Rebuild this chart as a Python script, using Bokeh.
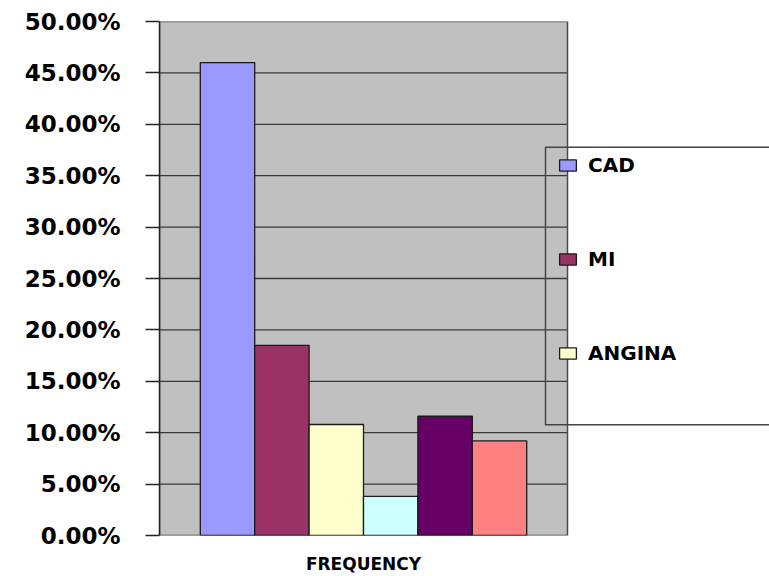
from bokeh.plotting import figure
from bokeh.models import Range1d, FixedTicker, Legend, LegendItem, ColumnDataSource
from bokeh.embed import file_html
from bokeh.resources import INLINE

# Share of patients per diagnosis group (percent)
legend_labels = ["CAD", "MI", "ANGINA"]
frequency = [46.0, 18.5, 10.8, 3.8, 11.6, 9.2]
bar_colors = ["#9999FF", "#993366", "#FFFFCC", "#CCFFFF", "#660066", "#FF8080"]
y_ticks = [0, 5, 10, 15, 20, 25, 30, 35, 40, 45, 50]
y_tick_labels = ["0.00%", "5.00%", "10.00%", "15.00%", "20.00%", "25.00%",
                 "30.00%", "35.00%", "40.00%", "45.00%", "50.00%"]
axis_title = "FREQUENCY"

# ---- layout (pixels) ----
W, H = 769, 576
FRAME_LEFT, FRAME_TOP, FRAME_BOTTOM = 159, 21, 536
AREA_RIGHT_PX = 567            # right edge of the grey plot area
GAP = 1.5                      # gap width, in bar widths
n = len(frequency)
area_units = n + GAP           # grey plot area width in bar units
px_per_unit = (AREA_RIGHT_PX - FRAME_LEFT) / area_units
x_end = (W - FRAME_LEFT) / px_per_unit
y_max = y_ticks[-1]
px_per_y = (FRAME_BOTTOM - FRAME_TOP) / y_max


def px_x(px):
    return (px - FRAME_LEFT) / px_per_unit


def px_y(py):
    return (FRAME_BOTTOM - py) / px_per_y


FONT = "DejaVu Sans"

p = figure(width=W, height=H, x_range=Range1d(0, x_end), y_range=Range1d(0, y_max),
           min_border_left=FRAME_LEFT, min_border_right=0, min_border_top=FRAME_TOP,
           min_border_bottom=H - FRAME_BOTTOM, output_backend="svg",
           toolbar_location=None, outline_line_color=None,
           background_fill_color="white", border_fill_color="white")
p.xgrid.visible = False
p.ygrid.visible = False

# grey plot area
p.quad(left=[0], right=[area_units], bottom=[0], top=[y_max],
       fill_color="#C0C0C0", line_color=None)
# horizontal gridlines across the plot area only
inner = [t for t in y_ticks if 0 < t < y_max]
p.segment(x0=[0] * len(inner), x1=[area_units] * len(inner), y0=inner, y1=inner,
          line_color="#3a3a3a", line_width=1.3)
# plot area border
p.quad(left=[0], right=[area_units], bottom=[0], top=[y_max],
       fill_color=None, line_color="#4a4a4a", line_width=1.5)

# bars, one cluster
src = ColumnDataSource(dict(
    x=[GAP / 2 + 0.5 + i for i in range(n)],
    top=frequency,
    color=bar_colors,
))
bars = p.vbar(x="x", top="top", width=1, bottom=0, source=src,
              fill_color="color", line_color="#1a1a1a", line_width=1.3)

# legend frame
p.quad(left=[px_x(545)], right=[x_end + 1], top=[px_y(147)], bottom=[px_y(425)],
       fill_color=None, line_color="#444444", line_width=1.5)

legend = Legend(
    items=[LegendItem(label=lab, renderers=[bars], index=i)
           for i, lab in enumerate(legend_labels)],
    location=(557 - FRAME_LEFT, FRAME_BOTTOM - 366),
    orientation="vertical", border_line_color=None, background_fill_alpha=0,
    padding=0, margin=0, spacing=70, label_height=20,
    glyph_height=14, glyph_width=21, label_standoff=10,
    label_text_font=FONT, label_text_font_style="bold",
    label_text_font_size="20px", label_text_color="black",
)
p.add_layout(legend)

# y axis
ya = p.yaxis[0]
ya.ticker = FixedTicker(ticks=y_ticks)
ya.major_label_overrides = {t: lab for t, lab in zip(y_ticks, y_tick_labels)}
ya.major_label_text_font = FONT
ya.major_label_text_font_style = "bold"
ya.major_label_text_font_size = "23px"
ya.major_label_text_color = "black"
ya.major_label_standoff = 25
ya.major_tick_out = 14
ya.major_tick_in = 0
ya.minor_tick_line_color = None
ya.major_tick_line_color = "#222222"
ya.major_tick_line_width = 1.3
ya.axis_line_color = "#222222"
ya.axis_line_width = 1.5

# x axis: single category title under the plot area
xa = p.xaxis[0]
xa.ticker = FixedTicker(ticks=[area_units / 2])
xa.major_label_overrides = {area_units / 2: axis_title}
xa.major_label_text_font = FONT
xa.major_label_text_font_style = "bold"
xa.major_label_text_font_size = "17px"
xa.major_label_text_color = "black"
xa.major_label_standoff = 18
xa.major_tick_out = 0
xa.major_tick_in = 0
xa.major_tick_line_color = None
xa.minor_tick_line_color = None
xa.axis_line_color = None

open("out.html", "w").write(file_html(p, INLINE))
